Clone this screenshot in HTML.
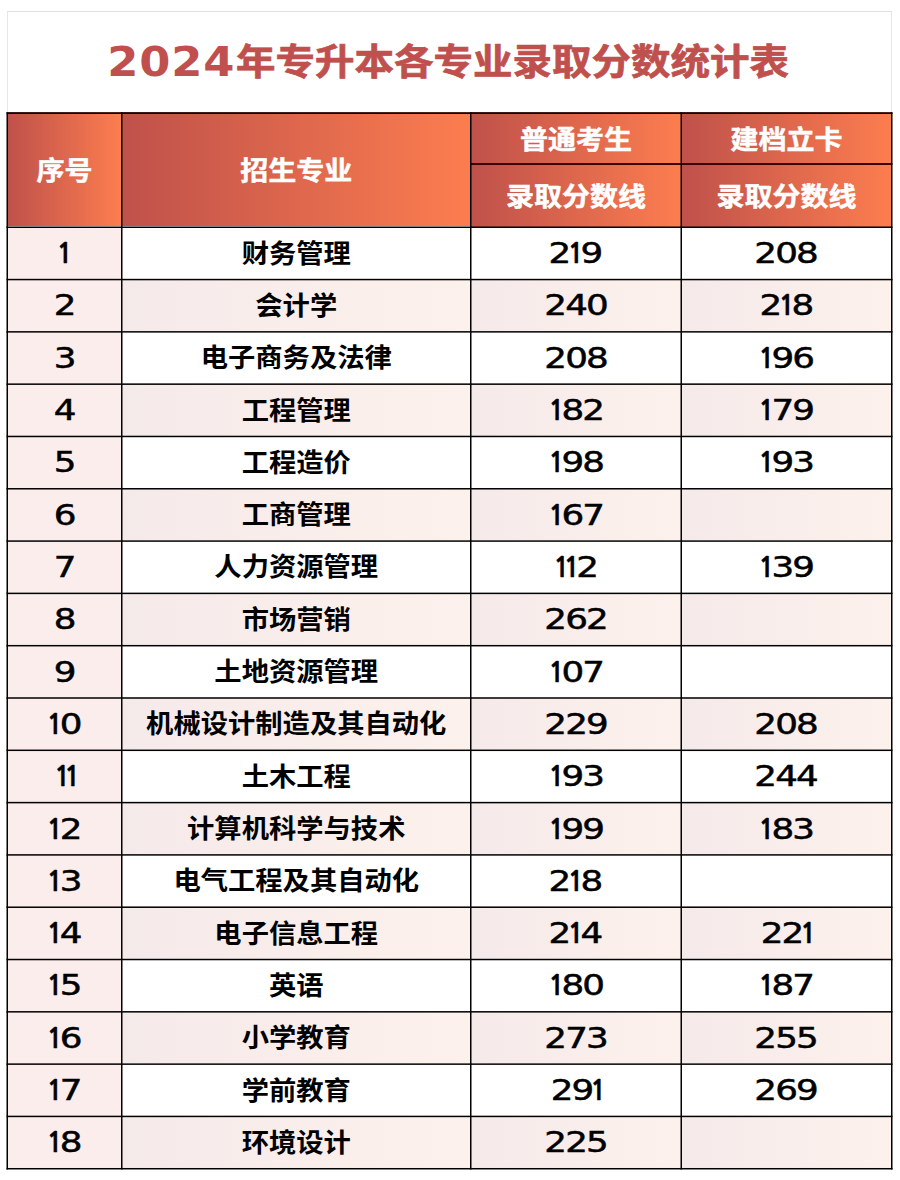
<!DOCTYPE html>
<html lang="zh-CN"><head><meta charset="utf-8">
<title>2024年专升本各专业录取分数统计表</title>
<style>
html,body{margin:0;padding:0;background:#fff;}
body{width:900px;height:1180px;position:relative;overflow:hidden;}
.frame{position:absolute;left:7px;top:11px;width:885px;height:102px;border-top:1px solid #e0e0e0;border-left:1px solid #e6e6e6;border-right:1px solid #e6e6e6;box-sizing:border-box;}
.title{position:absolute;left:0;top:0;width:900px;height:120px;display:flex;align-items:center;justify-content:center;white-space:nowrap;color:#c0504d;
 font-family:"Liberation Sans","Noto Sans CJK SC",sans-serif;font-weight:700;font-size:39.5px;line-height:1;padding-right:3px;box-sizing:border-box;}
.title .d{display:inline-block;font-family:"DejaVu Sans","Liberation Sans",sans-serif;font-weight:bold;font-size:40px;letter-spacing:0.8px;margin-right:7.5px;margin-left:6px;transform:translateY(2.3px) scaleX(1.12);}
.title .k{display:inline-block;transform:translateY(3.5px) scaleY(0.91);-webkit-text-stroke:0.8px #c0504d;}
.c{position:absolute;display:flex;align-items:center;justify-content:center;box-sizing:border-box;white-space:nowrap;padding-left:1.5px;}
.h{background:linear-gradient(90deg,rgb(191,81,75),rgb(252,125,79));color:#fff;font-family:"Liberation Sans","Noto Sans CJK SC",sans-serif;font-weight:700;font-size:28px;}
.ht{display:inline-block;transform:scaleY(0.93);-webkit-text-stroke:0.5px #fff;}
.p{background:linear-gradient(90deg,rgb(245,234,234),rgb(253,241,236));}
.q{background:rgb(250,237,235);}
.w{background:#fff;}
.tt{display:inline-block;font-family:"Liberation Sans","Noto Sans CJK SC",sans-serif;font-weight:bold;font-size:27.3px;color:#000;transform:translateY(-1.4px) scaleY(0.94);}
.nm{display:inline-block;font-family:"DejaVu Sans","Liberation Sans",sans-serif;font-weight:normal;font-size:28.1px;color:#000;-webkit-text-stroke:0.5px #000;letter-spacing:-1.5px;margin-right:1.5px;transform:translateY(0.5px) scaleX(1.27);}
.o{display:inline-block;transform:scaleX(0.76);transform-origin:0 0;font-family:"NanumGothic","DejaVu Sans",sans-serif;font-weight:700;font-size:28.1px;letter-spacing:-6.6px;}
.om{margin-left:-1.6px;}
.om1{margin-left:-2.8px;}
.ol{letter-spacing:-9px;}
.ol1{letter-spacing:-5.6px;}
.grid{position:absolute;left:0;top:0;}
</style></head><body>
<div class="frame"></div>
<div class="title"><span class="d">2024</span><span class="k">年专升本各专业录取分数统计表</span></div>
<div class="c h" style="left:6.50px;top:112.30px;width:114.50px;height:114.20px"><span class="ht">序号</span></div><div class="c h" style="left:121.00px;top:112.30px;width:349.00px;height:114.20px"><span class="ht">招生专业</span></div><div class="c h" style="left:470.00px;top:112.30px;width:210.50px;height:50.70px"><span class="ht">普通考生</span></div><div class="c h" style="left:680.50px;top:112.30px;width:210.50px;height:50.70px"><span class="ht">建档立卡</span></div><div class="c h" style="left:470.00px;top:163.00px;width:210.50px;height:63.50px"><span class="ht">录取分数线</span></div><div class="c h" style="left:680.50px;top:163.00px;width:210.50px;height:63.50px"><span class="ht">录取分数线</span></div><div class="c q" style="left:6.50px;top:226.50px;width:114.50px;height:52.31px"><span class="nm"><span class="o ol1">1</span></span></div><div class="c w" style="left:121.00px;top:226.50px;width:349.00px;height:52.31px"><span class="tt">财务管理</span></div><div class="c w" style="left:470.00px;top:226.50px;width:210.50px;height:52.31px"><span class="nm">2<span class="o om">1</span>9</span></div><div class="c w" style="left:680.50px;top:226.50px;width:210.50px;height:52.31px"><span class="nm">208</span></div><div class="c q" style="left:6.50px;top:278.81px;width:114.50px;height:52.31px"><span class="nm">2</span></div><div class="c p" style="left:121.00px;top:278.81px;width:349.00px;height:52.31px"><span class="tt">会计学</span></div><div class="c p" style="left:470.00px;top:278.81px;width:210.50px;height:52.31px"><span class="nm">240</span></div><div class="c p" style="left:680.50px;top:278.81px;width:210.50px;height:52.31px"><span class="nm">2<span class="o om">1</span>8</span></div><div class="c q" style="left:6.50px;top:331.11px;width:114.50px;height:52.31px"><span class="nm">3</span></div><div class="c w" style="left:121.00px;top:331.11px;width:349.00px;height:52.31px"><span class="tt">电子商务及法律</span></div><div class="c w" style="left:470.00px;top:331.11px;width:210.50px;height:52.31px"><span class="nm">208</span></div><div class="c w" style="left:680.50px;top:331.11px;width:210.50px;height:52.31px"><span class="nm"><span class="o">1</span>96</span></div><div class="c q" style="left:6.50px;top:383.41px;width:114.50px;height:52.31px"><span class="nm">4</span></div><div class="c p" style="left:121.00px;top:383.41px;width:349.00px;height:52.31px"><span class="tt">工程管理</span></div><div class="c p" style="left:470.00px;top:383.41px;width:210.50px;height:52.31px"><span class="nm"><span class="o">1</span>82</span></div><div class="c p" style="left:680.50px;top:383.41px;width:210.50px;height:52.31px"><span class="nm"><span class="o">1</span>79</span></div><div class="c q" style="left:6.50px;top:435.72px;width:114.50px;height:52.31px"><span class="nm">5</span></div><div class="c w" style="left:121.00px;top:435.72px;width:349.00px;height:52.31px"><span class="tt">工程造价</span></div><div class="c w" style="left:470.00px;top:435.72px;width:210.50px;height:52.31px"><span class="nm"><span class="o">1</span>98</span></div><div class="c w" style="left:680.50px;top:435.72px;width:210.50px;height:52.31px"><span class="nm"><span class="o">1</span>93</span></div><div class="c q" style="left:6.50px;top:488.02px;width:114.50px;height:52.30px"><span class="nm">6</span></div><div class="c p" style="left:121.00px;top:488.02px;width:349.00px;height:52.30px"><span class="tt">工商管理</span></div><div class="c p" style="left:470.00px;top:488.02px;width:210.50px;height:52.30px"><span class="nm"><span class="o">1</span>67</span></div><div class="c p" style="left:680.50px;top:488.02px;width:210.50px;height:52.30px"></div><div class="c q" style="left:6.50px;top:540.33px;width:114.50px;height:52.30px"><span class="nm">7</span></div><div class="c w" style="left:121.00px;top:540.33px;width:349.00px;height:52.30px"><span class="tt">人力资源管理</span></div><div class="c w" style="left:470.00px;top:540.33px;width:210.50px;height:52.30px"><span class="nm"><span class="o">1</span><span class="o om1">1</span>2</span></div><div class="c w" style="left:680.50px;top:540.33px;width:210.50px;height:52.30px"><span class="nm"><span class="o">1</span>39</span></div><div class="c q" style="left:6.50px;top:592.63px;width:114.50px;height:52.30px"><span class="nm">8</span></div><div class="c p" style="left:121.00px;top:592.63px;width:349.00px;height:52.30px"><span class="tt">市场营销</span></div><div class="c p" style="left:470.00px;top:592.63px;width:210.50px;height:52.30px"><span class="nm">262</span></div><div class="c p" style="left:680.50px;top:592.63px;width:210.50px;height:52.30px"></div><div class="c q" style="left:6.50px;top:644.94px;width:114.50px;height:52.30px"><span class="nm">9</span></div><div class="c w" style="left:121.00px;top:644.94px;width:349.00px;height:52.30px"><span class="tt">土地资源管理</span></div><div class="c w" style="left:470.00px;top:644.94px;width:210.50px;height:52.30px"><span class="nm"><span class="o">1</span>07</span></div><div class="c w" style="left:680.50px;top:644.94px;width:210.50px;height:52.30px"></div><div class="c q" style="left:6.50px;top:697.25px;width:114.50px;height:52.30px"><span class="nm"><span class="o">1</span>0</span></div><div class="c p" style="left:121.00px;top:697.25px;width:349.00px;height:52.30px"><span class="tt">机械设计制造及其自动化</span></div><div class="c p" style="left:470.00px;top:697.25px;width:210.50px;height:52.30px"><span class="nm">229</span></div><div class="c p" style="left:680.50px;top:697.25px;width:210.50px;height:52.30px"><span class="nm">208</span></div><div class="c q" style="left:6.50px;top:749.55px;width:114.50px;height:52.30px"><span class="nm"><span class="o">1</span><span class="o om1 ol">1</span></span></div><div class="c w" style="left:121.00px;top:749.55px;width:349.00px;height:52.30px"><span class="tt">土木工程</span></div><div class="c w" style="left:470.00px;top:749.55px;width:210.50px;height:52.30px"><span class="nm"><span class="o">1</span>93</span></div><div class="c w" style="left:680.50px;top:749.55px;width:210.50px;height:52.30px"><span class="nm">244</span></div><div class="c q" style="left:6.50px;top:801.86px;width:114.50px;height:52.30px"><span class="nm"><span class="o">1</span>2</span></div><div class="c p" style="left:121.00px;top:801.86px;width:349.00px;height:52.30px"><span class="tt">计算机科学与技术</span></div><div class="c p" style="left:470.00px;top:801.86px;width:210.50px;height:52.30px"><span class="nm"><span class="o">1</span>99</span></div><div class="c p" style="left:680.50px;top:801.86px;width:210.50px;height:52.30px"><span class="nm"><span class="o">1</span>83</span></div><div class="c q" style="left:6.50px;top:854.16px;width:114.50px;height:52.30px"><span class="nm"><span class="o">1</span>3</span></div><div class="c w" style="left:121.00px;top:854.16px;width:349.00px;height:52.30px"><span class="tt">电气工程及其自动化</span></div><div class="c w" style="left:470.00px;top:854.16px;width:210.50px;height:52.30px"><span class="nm">2<span class="o om">1</span>8</span></div><div class="c w" style="left:680.50px;top:854.16px;width:210.50px;height:52.30px"></div><div class="c q" style="left:6.50px;top:906.47px;width:114.50px;height:52.30px"><span class="nm"><span class="o">1</span>4</span></div><div class="c p" style="left:121.00px;top:906.47px;width:349.00px;height:52.30px"><span class="tt">电子信息工程</span></div><div class="c p" style="left:470.00px;top:906.47px;width:210.50px;height:52.30px"><span class="nm">2<span class="o om">1</span>4</span></div><div class="c p" style="left:680.50px;top:906.47px;width:210.50px;height:52.30px"><span class="nm">22<span class="o om ol">1</span></span></div><div class="c q" style="left:6.50px;top:958.77px;width:114.50px;height:52.30px"><span class="nm"><span class="o">1</span>5</span></div><div class="c w" style="left:121.00px;top:958.77px;width:349.00px;height:52.30px"><span class="tt">英语</span></div><div class="c w" style="left:470.00px;top:958.77px;width:210.50px;height:52.30px"><span class="nm"><span class="o">1</span>80</span></div><div class="c w" style="left:680.50px;top:958.77px;width:210.50px;height:52.30px"><span class="nm"><span class="o">1</span>87</span></div><div class="c q" style="left:6.50px;top:1011.08px;width:114.50px;height:52.31px"><span class="nm"><span class="o">1</span>6</span></div><div class="c p" style="left:121.00px;top:1011.08px;width:349.00px;height:52.31px"><span class="tt">小学教育</span></div><div class="c p" style="left:470.00px;top:1011.08px;width:210.50px;height:52.31px"><span class="nm">273</span></div><div class="c p" style="left:680.50px;top:1011.08px;width:210.50px;height:52.31px"><span class="nm">255</span></div><div class="c q" style="left:6.50px;top:1063.38px;width:114.50px;height:52.31px"><span class="nm"><span class="o">1</span>7</span></div><div class="c w" style="left:121.00px;top:1063.38px;width:349.00px;height:52.31px"><span class="tt">学前教育</span></div><div class="c w" style="left:470.00px;top:1063.38px;width:210.50px;height:52.31px"><span class="nm">29<span class="o om ol">1</span></span></div><div class="c w" style="left:680.50px;top:1063.38px;width:210.50px;height:52.31px"><span class="nm">269</span></div><div class="c q" style="left:6.50px;top:1115.68px;width:114.50px;height:52.31px"><span class="nm"><span class="o">1</span>8</span></div><div class="c p" style="left:121.00px;top:1115.68px;width:349.00px;height:52.31px"><span class="tt">环境设计</span></div><div class="c p" style="left:470.00px;top:1115.68px;width:210.50px;height:52.31px"><span class="nm">225</span></div><div class="c p" style="left:680.50px;top:1115.68px;width:210.50px;height:52.31px"></div>
<svg class="grid" width="900" height="1180" viewBox="0 0 900 1180"><rect x="6.50" y="112.30" width="886.00" height="1.70" fill="#000"/><rect x="470.00" y="163.00" width="422.50" height="2.00" fill="#3a0404"/><rect x="6.50" y="226.50" width="886.00" height="1.50" fill="#000"/><rect x="6.50" y="278.81" width="886.00" height="1.50" fill="#000"/><rect x="6.50" y="331.11" width="886.00" height="1.50" fill="#000"/><rect x="6.50" y="383.41" width="886.00" height="1.50" fill="#000"/><rect x="6.50" y="435.72" width="886.00" height="1.50" fill="#000"/><rect x="6.50" y="488.02" width="886.00" height="1.50" fill="#000"/><rect x="6.50" y="540.33" width="886.00" height="1.50" fill="#000"/><rect x="6.50" y="592.63" width="886.00" height="1.50" fill="#000"/><rect x="6.50" y="644.94" width="886.00" height="1.50" fill="#000"/><rect x="6.50" y="697.25" width="886.00" height="1.50" fill="#000"/><rect x="6.50" y="749.55" width="886.00" height="1.50" fill="#000"/><rect x="6.50" y="801.86" width="886.00" height="1.50" fill="#000"/><rect x="6.50" y="854.16" width="886.00" height="1.50" fill="#000"/><rect x="6.50" y="906.47" width="886.00" height="1.50" fill="#000"/><rect x="6.50" y="958.77" width="886.00" height="1.50" fill="#000"/><rect x="6.50" y="1011.08" width="886.00" height="1.50" fill="#000"/><rect x="6.50" y="1063.38" width="886.00" height="1.50" fill="#000"/><rect x="6.50" y="1115.68" width="886.00" height="1.50" fill="#000"/><rect x="6.50" y="1167.99" width="886.00" height="1.50" fill="#000"/><rect x="6.50" y="112.30" width="1.50" height="1057.19" fill="#000"/><rect x="121.00" y="112.30" width="1.50" height="1057.19" fill="#000"/><rect x="470.00" y="112.30" width="1.50" height="1057.19" fill="#000"/><rect x="680.50" y="112.30" width="1.50" height="1057.19" fill="#000"/><rect x="891.00" y="112.30" width="1.50" height="1057.19" fill="#000"/></svg>
</body></html>
